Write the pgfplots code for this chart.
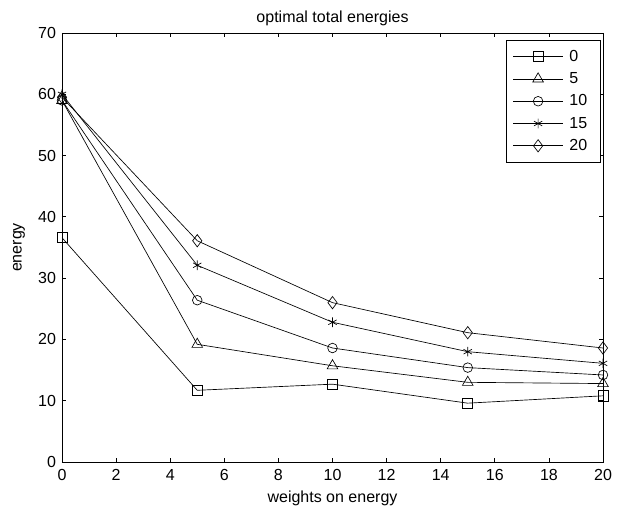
\documentclass[border=0pt]{standalone}
\usepackage{pgfplots}
\pgfplotsset{compat=1.18}
\usepackage{fontspec}
\setmainfont{Liberation Sans}
\pgfplotsset{myleg/.style={legend image code/.code={%
  \draw[#1] (0cm,0cm) -- (1.32cm,0cm);
  \draw[#1] plot[mark options={solid}] coordinates {(0.66cm,0cm)};}}}
\begin{document}
\begin{tikzpicture}[x=0.75pt,y=0.75pt]
\begin{axis}[
  at={(0,0)}, anchor=south west,
  scale only axis,
  width=405.75pt, height=321.75pt,
  xmin=0, xmax=20, ymin=0, ymax=70,
  xtick={0,2,...,20}, ytick={0,10,...,70},
  tick align=inside,
  major tick length=3pt,
  tick style={black, line width=0.6pt},
  axis line style={line width=0.6pt},
  /pgf/number format/assume math mode=true,
  tick label style={font=\fontsize{12}{14}\selectfont},
  xticklabel style={yshift=-2pt},
  yticklabel style={xshift=-1pt},
  label style={font=\fontsize{12}{14}\selectfont},
  title style={font=\fontsize{12}{14}\selectfont, yshift=-4pt},
  title={optimal total energies},
  xlabel={weights on energy},
  ylabel={energy},
  xlabel style={yshift=-1pt},
  ylabel style={yshift=3pt},
  clip=false,
  every axis plot/.append style={black, line width=0.5pt, mark options={solid, line width=0.5pt, fill=none}},
  legend cell align=left,
  legend style={at={(1,1)}, anchor=north east, xshift=-2pt, yshift=-5pt,
    font=\fontsize{12}{14}\selectfont, draw=black, line width=0.6pt,
    row sep=2.9pt, inner ysep=5.5pt, inner xsep=5pt,
    nodes={inner xsep=4.5pt}},
]
\addplot[mark=square, mark size=3.8pt, myleg] coordinates {(0,36.6)(5,11.7)(10,12.7)(15,9.6)(20,10.8)};
\addlegendentry{0}
\addplot[mark=triangle, mark size=4.6pt, myleg] coordinates {(0,59.0)(5,19.2)(10,15.7)(15,13.0)(20,12.8)};
\addlegendentry{5}
\addplot[mark=o, mark size=3.6pt, myleg] coordinates {(0,59.0)(5,26.4)(10,18.6)(15,15.4)(20,14.2)};
\addlegendentry{10}
\addplot[mark=asterisk, mark size=3.6pt, myleg] coordinates {(0,60.0)(5,32.1)(10,22.8)(15,18.0)(20,16.1)};
\addlegendentry{15}
\addplot[mark=diamond, mark size=4.6pt, myleg] coordinates {(0,59.5)(5,36.1)(10,26.0)(15,21.1)(20,18.6)};
\addlegendentry{20}
\end{axis}
\pgfresetboundingbox
\path (-62,-48) rectangle (562,462);
\end{tikzpicture}
\end{document}
